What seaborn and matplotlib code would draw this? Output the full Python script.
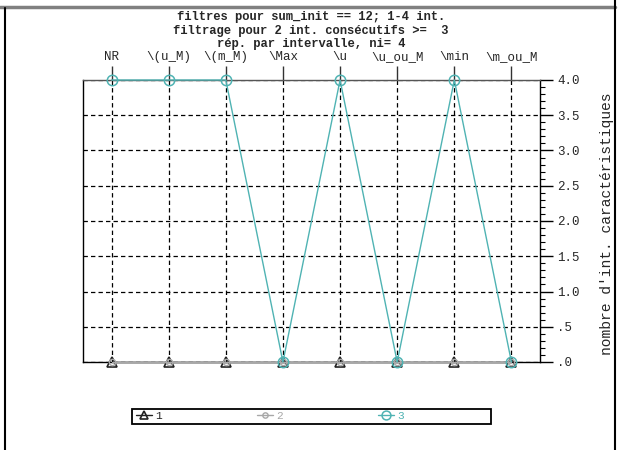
import matplotlib
matplotlib.use("Agg")
import matplotlib.pyplot as plt
from matplotlib.lines import Line2D
from matplotlib.patches import Rectangle
from matplotlib.ticker import FixedLocator, MultipleLocator
import seaborn as sns
import pandas as pd

categories = ["NR", "\\(u_M)", "\\(m_M)", "\\Max", "\\u", "\\u_ou_M", "\\min", "\\m_ou_M"]
serie_1 = [0, 0, 0, 0, 0, 0, 0, 0]
serie_2 = [0, 0, 0, 0, 0, 0, 0, 0]
serie_3 = [4, 4, 4, 0, 4, 0, 4, 0]
series_names = ["1", "2", "3"]
ytick_values = [0.0, 0.5, 1.0, 1.5, 2.0, 2.5, 3.0, 3.5, 4.0]
ytick_labels = [".0", ".5", "1.0", "1.5", "2.0", "2.5", "3.0", "3.5", "4.0"]
title_lines = ["filtres pour sum_init == 12; 1-4 int.",
               "filtrage pour 2 int. consécutifs >=  3",
               "rép. par intervalle, ni= 4"]
ylabel = "nombre d'int. caractéristiques"

sns.set_style("white")
plt.rcParams["font.family"] = ["Liberation Mono", "DejaVu Sans Mono"]

W, H = 618, 450
fig = plt.figure(figsize=(W / 100, H / 100), dpi=100)
ax = fig.add_axes([83 / W, 1 - 362 / H, (540 - 83) / W, (362 - 80) / H])

pos = list(range(len(categories)))
df = pd.DataFrame({"pos": pos * 3,
                   "val": serie_1 + serie_2 + serie_3,
                   "serie": [series_names[0]] * 8 + [series_names[1]] * 8 + [series_names[2]] * 8})

styles = {
    "1": dict(color="#222222", marker="^", ms=7, mfc="none", mew=1.2, lw=1.0),
    "2": dict(color="#a8a8a8", marker="o", ms=4.5, mfc="none", mew=1.0, lw=1.0),
    "3": dict(color="#4fb3b3", marker="o", ms=7.5, mfc="none", mew=1.1, lw=1.0),
}
handles = []
for name in series_names:
    sub = df[df["serie"] == name]
    st = styles[name]
    sns.lineplot(data=sub, x="pos", y="val", ax=ax, color=st["color"], lw=st["lw"],
                 marker=st["marker"], markersize=st["ms"], markerfacecolor=st["mfc"],
                 markeredgecolor=st["color"], markeredgewidth=st["mew"],
                 legend=False, clip_on=False, zorder=3)
    handles.append(Line2D([], [], color=st["color"], lw=st["lw"], marker=st["marker"],
                          markersize=st["ms"] * 0.85, markerfacecolor="none",
                          markeredgecolor=st["color"], markeredgewidth=st["mew"]))

ax.set_xlim(-0.5, len(categories) - 0.5)
ax.set_ylim(0, 4)

# x axis on top
ax.xaxis.set_major_locator(FixedLocator(pos))
ax.set_xticks(pos)
ax.set_xticklabels(categories, fontsize=9)
ax.xaxis.tick_top()
ax.tick_params(axis="x", which="both", top=True, bottom=False, direction="out",
               length=10, width=1, color="#333333", pad=2)
ax.set_xlabel("")

# y axis on right
ax.yaxis.tick_right()
ax.set_yticks(ytick_values)
ax.set_yticklabels(ytick_labels, fontsize=9)
ax.yaxis.set_minor_locator(MultipleLocator(0.1))
ax.tick_params(axis="y", which="major", left=False, right=True, direction="out",
               length=9.5, width=1, color="black", pad=3)
ax.tick_params(axis="y", which="minor", left=False, right=True, direction="out",
               length=3.6, width=0.8, color="black")
ax.yaxis.set_label_position("right")
ax.set_ylabel(ylabel, fontsize=10.5, rotation=90)
ax.yaxis.set_label_coords((600 - 83) / (540 - 83), 0.49)

# grid
ax.grid(True, which="major", axis="both", color="black", lw=0.9,
        linestyle=(0, (3.5, 2.5)))
ax.set_axisbelow(True)

for side in ["left", "right", "bottom"]:
    ax.spines[side].set_visible(True)
    ax.spines[side].set_color("black")
    ax.spines[side].set_linewidth(1.0)
ax.spines["top"].set_visible(True)
ax.spines["top"].set_color("#555555")
ax.spines["top"].set_linewidth(1.0)

# title lines
for line, y in zip(title_lines, [17, 31, 44]):
    fig.text(311 / W, 1 - y / H, line, ha="center", va="center",
             fontsize=8.7, fontweight="bold")

# legend box
fig.add_artist(Rectangle((132 / W, 1 - 424 / H), 359 / W, 15 / H,
                         transform=fig.transFigure, fill=False,
                         edgecolor="black", lw=1.3))
leg = fig.legend(handles, series_names, loc="center left",
                 bbox_to_anchor=(136 / W, 1 - 416 / H),
                 ncol=3, frameon=False, fontsize=8, handlelength=1.4,
                 handletextpad=0.3, borderpad=0.0, borderaxespad=0,
                 columnspacing=8.6)
for t, name in zip(leg.get_texts(), series_names):
    t.set_color(styles[name]["color"])

# outer frame lines
fig.add_artist(Line2D([0, 615 / W], [1 - 7 / H, 1 - 7 / H], color="#808080", lw=2.5))
fig.add_artist(Line2D([5 / W, 5 / W], [0, 1 - 8 / H], color="black", lw=1.5))
fig.add_artist(Line2D([615 / W, 615 / W], [0, 1], color="black", lw=1.5))

fig.savefig("out.png", dpi=100)
